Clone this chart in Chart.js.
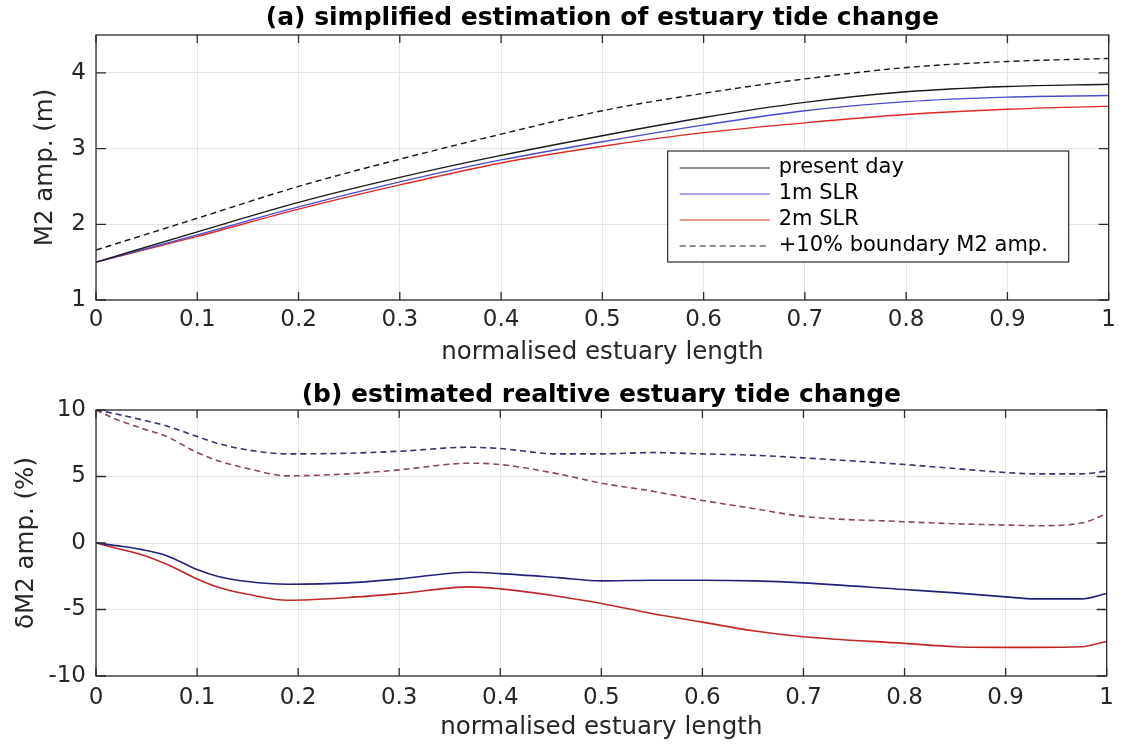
<!DOCTYPE html>
<html>
<head>
<meta charset="utf-8">
<script src="https://cdn.jsdelivr.net/npm/chart.js@4.4.1/dist/chart.umd.min.js"></script>
<style>
    html, body { margin: 0; padding: 0; background: #fff; }
    canvas { position: absolute; left: 0; }
    #chart-a { top: 0; }
    #chart-b { top: 372px; }
</style>
</head>
<body>
<canvas id="chart-a" width="1122" height="372"></canvas>
<canvas id="chart-b" width="1122" height="372"></canvas>
<script>
// (a) tidal amplitude along the estuary, metres
const xTop = [0, 0.1, 0.2, 0.3, 0.4, 0.5, 0.6, 0.7, 0.8, 0.9, 1.0];
const presentDay = [1.50, 1.90, 2.29, 2.62, 2.91, 3.17, 3.41, 3.61, 3.75, 3.82, 3.85];
const slr1m = [1.50, 1.86, 2.23, 2.56, 2.85, 3.09, 3.31, 3.50, 3.62, 3.68, 3.70];
const slr2m = [1.50, 1.84, 2.20, 2.52, 2.81, 3.03, 3.21, 3.34, 3.45, 3.52, 3.56];
const boundary10 = [1.66, 2.08, 2.50, 2.86, 3.19, 3.50, 3.73, 3.92, 4.07, 4.15, 4.19];

// (b) relative change, percent
const xBottom = [0, 0.02, 0.046, 0.07, 0.1, 0.12, 0.15, 0.19, 0.25, 0.3, 0.37, 0.4, 0.457, 0.5, 0.55, 0.6, 0.65, 0.7, 0.8, 0.85, 0.9, 0.93, 0.975, 1.0];
const relBoundary1m = [10, 9.7, 9.25, 8.8, 8.0, 7.5, 7.0, 6.7, 6.75, 6.9, 7.2, 7.1, 6.7, 6.7, 6.8, 6.7, 6.6, 6.4, 5.9, 5.6, 5.3, 5.2, 5.2, 5.4];
const relBoundary2m = [10, 9.3, 8.6, 8.0, 6.8, 6.2, 5.6, 5.05, 5.2, 5.5, 6.0, 5.9, 5.2, 4.5, 3.9, 3.2, 2.6, 2.0, 1.6, 1.45, 1.35, 1.3, 1.5, 2.2];
const relSlr1m = [0, -0.2, -0.5, -0.95, -2.0, -2.5, -2.9, -3.1, -3.0, -2.7, -2.2, -2.3, -2.6, -2.85, -2.8, -2.8, -2.85, -3.0, -3.5, -3.75, -4.05, -4.2, -4.2, -3.8];
const relSlr2m = [0, -0.4, -0.9, -1.6, -2.7, -3.3, -3.85, -4.3, -4.1, -3.8, -3.3, -3.45, -4.0, -4.55, -5.3, -5.95, -6.6, -7.05, -7.55, -7.8, -7.85, -7.85, -7.8, -7.4];

const xTicks = [0, 0.1, 0.2, 0.3, 0.4, 0.5, 0.6, 0.7, 0.8, 0.9, 1];
const yTicksTop = [1, 2, 3, 4];
const yTicksBottom = [-10, -5, 0, 5, 10];

Chart.defaults.font.family = '"DejaVu Sans", sans-serif';
Chart.defaults.color = '#262626';

const pts = (xs, ys) => xs.map((x, i) => ({ x: x, y: ys[i] }));

// matlab style box with inward ticks on every side
const axesBox = {
    id: 'axesBox',
    afterDraw(chart) {
        const { ctx, chartArea: a, scales: { x, y } } = chart;
        ctx.save();
        ctx.strokeStyle = '#2b2b2b';
        ctx.lineWidth = 1.3;
        ctx.beginPath();
        x.ticks.forEach(t => {
            const px = x.getPixelForValue(t.value);
            ctx.moveTo(px, a.bottom); ctx.lineTo(px, a.bottom - 8);
            ctx.moveTo(px, a.top); ctx.lineTo(px, a.top + 8);
        });
        y.ticks.forEach(t => {
            const py = y.getPixelForValue(t.value);
            ctx.moveTo(a.left, py); ctx.lineTo(a.left + 10, py);
            ctx.moveTo(a.right, py); ctx.lineTo(a.right - 10, py);
        });
        ctx.stroke();
        ctx.strokeRect(a.left, a.top, a.right - a.left, a.bottom - a.top);
        ctx.restore();
    }
};

// boxed legend inside the plot, lower right
const boxLegend = {
    id: 'boxLegend',
    afterDraw(chart) {
        const { ctx, chartArea: a } = chart;
        const left = a.right - 441, top = a.top + 116, w = 401, h = 111;
        ctx.save();
        ctx.fillStyle = '#fff';
        ctx.fillRect(left, top, w, h);
        ctx.strokeStyle = '#2b2b2b';
        ctx.lineWidth = 1.2;
        ctx.strokeRect(left, top, w, h);
        ctx.font = '21px "DejaVu Sans", sans-serif';
        ctx.textBaseline = 'middle';
        chart.data.datasets.forEach((ds, i) => {
            const yy = top + 17 + i * 26;
            ctx.strokeStyle = ds.borderColor;
            ctx.lineWidth = 1.2;
            ctx.setLineDash(ds.borderDash || []);
            ctx.beginPath();
            ctx.moveTo(left + 12, yy);
            ctx.lineTo(left + 102, yy);
            ctx.stroke();
            ctx.fillStyle = '#000';
            ctx.fillText(ds.label, left + 111, yy);
        });
        ctx.restore();
    }
};

const line = (label, xs, ys, color, width, dash) => ({
    label: label,
    data: pts(xs, ys),
    borderColor: color,
    borderWidth: width,
    borderDash: dash || [],
    pointRadius: 0,
    cubicInterpolationMode: 'monotone',
    fill: false
});

const makeChart = (id, opts) => new Chart(document.getElementById(id), {
    type: 'line',
    data: { datasets: opts.datasets },
    plugins: opts.plugins,
    options: {
        responsive: false,
        animation: false,
        layout: { padding: { left: 0, right: 11, top: 0, bottom: 0 } },
        scales: {
            x: {
                type: 'linear',
                min: 0,
                max: 1,
                afterBuildTicks: s => { s.ticks = xTicks.map(v => ({ value: v })); },
                afterFit: s => { s.height = opts.xHeight; },
                ticks: { font: { size: 23 }, padding: opts.xTickPad, maxRotation: 0, callback: v => String(v) },
                grid: { color: '#e4e4e4', drawTicks: false },
                border: { display: false },
                title: {
                    display: true,
                    text: 'normalised estuary length',
                    font: { size: 24.5 },
                    color: '#262626',
                    padding: { top: 0, bottom: opts.xTitlePad }
                }
            },
            y: {
                min: opts.yMin,
                max: opts.yMax,
                afterBuildTicks: s => { s.ticks = opts.yTicks.map(v => ({ value: v })); },
                afterFit: s => { s.width = 96; },
                ticks: { font: { size: 23 }, padding: 10, callback: v => String(v) },
                grid: { color: '#e4e4e4', drawTicks: false },
                border: { display: false },
                title: {
                    display: true,
                    text: opts.yTitle,
                    font: { size: 24.5 },
                    color: '#262626',
                    padding: { top: opts.yTitlePad, bottom: 0 }
                }
            }
        },
        plugins: {
            legend: { display: false },
            tooltip: { enabled: false },
            title: {
                display: true,
                fullSize: false,
                text: opts.title,
                color: '#000',
                font: { size: 25, weight: 'bold' },
                padding: opts.titlePad
            }
        }
    }
});

makeChart('chart-a', {
    title: '(a) simplified estimation of estuary tide change',
    titlePad: { top: 3, bottom: 2 },
    yTitle: 'M2 amp. (m)',
    yTitlePad: 31,
    yMin: 1, yMax: 4.5, yTicks: yTicksTop,
    xHeight: 72, xTickPad: 6, xTitlePad: 5,
    datasets: [
        line('present day', xTop, presentDay, '#1a1a1a', 1.4),
        line('1m SLR', xTop, slr1m, '#4a4ad0', 1.4),
        line('2m SLR', xTop, slr2m, '#e02828', 1.4),
        line('+10% boundary M2 amp.', xTop, boundary10, '#1a1a1a', 1.4, [6, 4])
    ],
    plugins: [axesBox, boxLegend]
});

makeChart('chart-b', {
    title: '(b) estimated realtive estuary tide change',
    titlePad: { top: 8, bottom: 0 },
    yTitle: 'δM2 amp. (%)',
    yTitlePad: 12,
    yMin: -10, yMax: 10, yTicks: yTicksBottom,
    xHeight: 68, xTickPad: 8, xTitlePad: 1.5,
    datasets: [
        line('1m SLR, +10% boundary', xBottom, relBoundary1m, '#34346e', 1.6, [6, 4]),
        line('2m SLR, +10% boundary', xBottom, relBoundary2m, '#8a4858', 1.6, [6, 4]),
        line('1m SLR', xBottom, relSlr1m, '#22227a', 1.6),
        line('2m SLR', xBottom, relSlr2m, '#c02828', 1.6)
    ],
    plugins: [axesBox]
});
</script>
</body>
</html>
